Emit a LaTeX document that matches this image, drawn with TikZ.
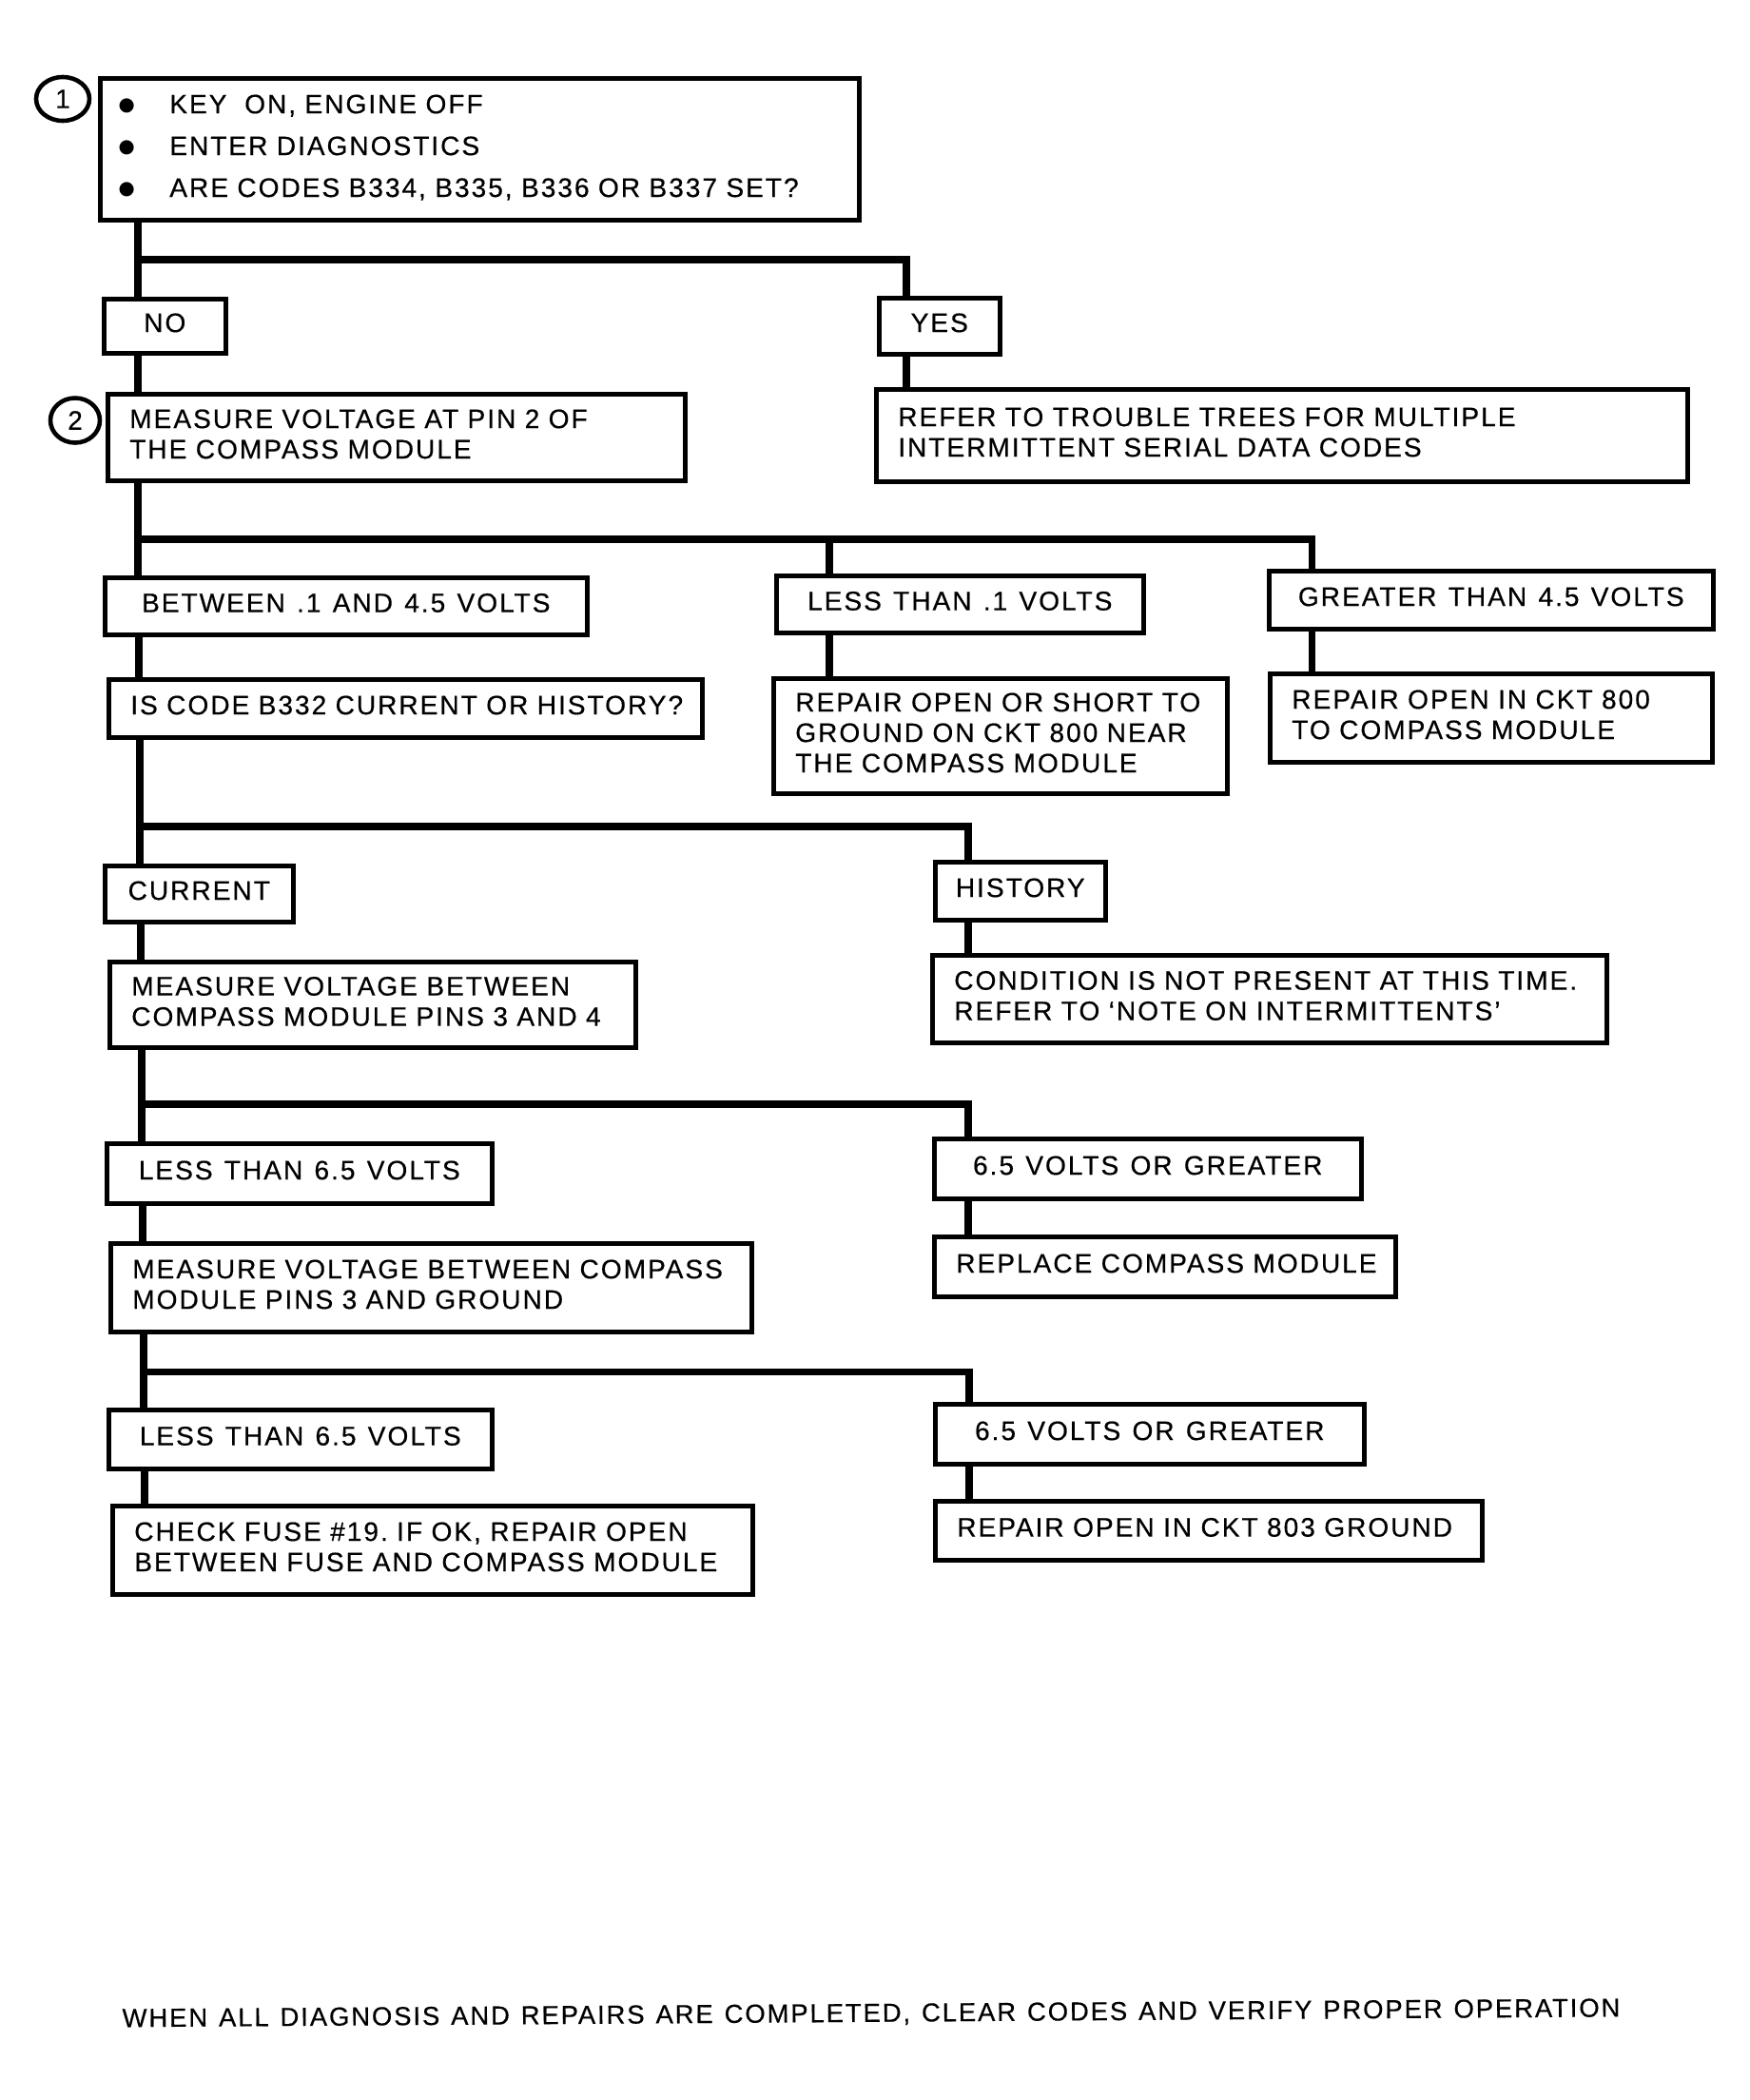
\documentclass[tikz,border=0pt]{standalone}
\usepackage{fontspec}
\usetikzlibrary{shapes.geometric}
\newfontfamily\df{Liberation Sans}[LetterSpace=7,WordSpace=1.25,FakeBold=0.4]
\newfontfamily\djvfont{DejaVu Sans}
\newcommand\dfs{\df\fontsize{8.0pt}{9.1pt}\selectfont}
\newcommand\nw[1]{\makebox[0pt][l]{#1}}
\newcommand\bul{\makebox[0.10cm]{\raisebox{0.7pt}{\djvfont\fontsize{5.6pt}{5.6pt}\selectfont ●}}\hspace{0.40cm}}
\frenchspacing
\begin{document}
\begin{tikzpicture}[
  bx/.style={draw, line width=1.3pt, anchor=north west, inner ysep=0pt, font=\dfs,
             execute at end node={\rule[-0.07cm]{0pt}{0pt}}},
  lb/.style 2 args={bx, text width=#1, minimum height=#2, inner xsep=0.23cm, align=left},
  cb/.style 2 args={bx, minimum width=#1, minimum height=#2, inner xsep=0pt, align=center},
  ln/.style={line width=2pt},
  num/.style={ellipse, draw, line width=1.3pt, inner sep=0pt, font=\dfs}
]
\useasboundingbox[fill=white] (0,0) rectangle (18.4,-22.08);

% boxes
\node[bx, text width=7.52cm, minimum height=1.49cm, inner xsep=0.23cm, align=left, font=\df\fontsize{8.0pt}{12.5pt}\selectfont] (b1) at (1.03,-0.80)
  {\nw{\bul KEY\ \ ON, ENGINE OFF}\\
   \nw{\bul ENTER DIAGNOSTICS}\\
   \nw{\bul ARE CODES B334, B335, B336 OR B337 SET?}};
\node[num, minimum width=0.56cm, minimum height=0.46cm] (c1) at (0.66,-1.04) {1};

\node[cb={1.28cm}{0.57cm}] (no) at (1.07,-3.12) {NO};
\node[cb={1.27cm}{0.59cm}] (yes) at (9.22,-3.11) {YES};

\node[lb={5.61cm}{0.91cm}] (b2) at (1.11,-4.12) {\nw{MEASURE VOLTAGE AT PIN 2 OF}\\\nw{THE COMPASS MODULE}};
\node[num, minimum width=0.52cm, minimum height=0.47cm] (c2) at (0.79,-4.42) {2};
\node[lb={8.07cm}{0.97cm}] (refer) at (9.19,-4.07) {\nw{REFER TO TROUBLE TREES FOR MULTIPLE}\\\nw{INTERMITTENT SERIAL DATA CODES}};

\node[cb={5.07cm}{0.60cm}] (betw) at (1.08,-6.05) {BETWEEN .1 AND 4.5 VOLTS};
\node[cb={3.86cm}{0.60cm}] (less1) at (8.14,-6.03) {LESS THAN .1 VOLTS};
\node[cb={4.67cm}{0.61cm}] (great) at (13.32,-5.98) {GREATER THAN 4.5 VOLTS};

\node[lb={5.78cm}{0.61cm}] (iscode) at (1.12,-7.12) {\nw{IS CODE B332 CURRENT OR HISTORY?}};
\node[lb={4.31cm}{1.21cm}] (rshort) at (8.11,-7.11) {\nw{REPAIR OPEN OR SHORT TO}\\\nw{GROUND ON CKT 800 NEAR}\\\nw{THE COMPASS MODULE}};
\node[lb={4.19cm}{0.93cm}] (r800) at (13.33,-7.06) {\nw{REPAIR OPEN IN CKT 800}\\\nw{TO COMPASS MODULE}};

\node[cb={1.98cm}{0.59cm}] (cur) at (1.08,-9.08) {CURRENT};
\node[cb={1.79cm}{0.61cm}] (hist) at (9.81,-9.04) {HISTORY};

\node[lb={5.07cm}{0.90cm}] (m34) at (1.13,-10.09) {\nw{MEASURE VOLTAGE BETWEEN}\\\nw{COMPASS MODULE PINS 3 AND 4}};
\node[lb={6.63cm}{0.92cm}] (cond) at (9.78,-10.02) {\nw{CONDITION IS NOT PRESENT AT THIS TIME.}\\\nw{REFER TO ‘NOTE ON INTERMITTENTS’}};

\node[cb={4.05cm}{0.63cm}] (l65a) at (1.10,-12.00) {LESS THAN 6.5 VOLTS};
\node[cb={4.49cm}{0.63cm}] (g65a) at (9.80,-11.95) {6.5 VOLTS OR GREATER};

\node[lb={6.28cm}{0.93cm}] (mgnd) at (1.14,-13.05) {\nw{MEASURE VOLTAGE BETWEEN COMPASS}\\\nw{MODULE PINS 3 AND GROUND}};
\node[lb={4.39cm}{0.63cm}] (repl) at (9.80,-12.98) {\nw{REPLACE COMPASS MODULE}};

\node[cb={4.03cm}{0.62cm}] (l65b) at (1.12,-14.80) {LESS THAN 6.5 VOLTS};
\node[cb={4.51cm}{0.63cm}] (g65b) at (9.81,-14.74) {6.5 VOLTS OR GREATER};

\node[lb={6.27cm}{0.93cm}] (fuse) at (1.16,-15.81) {\nw{CHECK FUSE \#19. IF OK, REPAIR OPEN}\\\nw{BETWEEN FUSE AND COMPASS MODULE}};
\node[lb={5.29cm}{0.62cm}] (r803) at (9.81,-15.76) {\nw{REPAIR OPEN IN CKT 803 GROUND}};

\node[font=\df\fontsize{7.8pt}{9.1pt}\selectfont, rotate=0.4] (foot) at (9.16,-21.18) {WHEN ALL DIAGNOSIS AND REPAIRS ARE COMPLETED, CLEAR CODES AND VERIFY PROPER OPERATION};

% connectors
\coordinate (x1) at (1.45,-2.73);
\coordinate (y1) at (9.53,-2.73);
\draw[ln] (x1 |- b1.south) -- (x1 |- no.north);
\draw[ln] (x1) -- (y1) -- (y1 |- yes.north);
\draw[ln] (x1 |- no.south) -- (x1 |- b2.north);
\draw[ln] (y1 |- yes.south) -- (y1 |- refer.north);

\coordinate (x2) at (1.45,-5.67);
\coordinate (m2) at (8.72,-5.67);
\coordinate (r2) at (13.79,-5.67);
\draw[ln] (x2 |- b2.south) -- (x2 |- betw.north);
\draw[ln] (x2) -- (r2) -- (r2 |- great.north);
\draw[ln] (m2) -- (m2 |- less1.north);
\coordinate (x2b) at (1.46,0);
\draw[ln] (x2b |- betw.south) -- (x2b |- iscode.north);
\draw[ln] (m2 |- less1.south) -- (m2 |- rshort.north);
\draw[ln] (r2 |- great.south) -- (r2 |- r800.north);

\coordinate (x3) at (1.47,-8.69);
\coordinate (r3) at (10.18,-8.69);
\draw[ln] (x3 |- iscode.south) -- (x3 |- cur.north);
\draw[ln] (x3) -- (r3) -- (r3 |- hist.north);
\coordinate (x3b) at (1.48,0);
\draw[ln] (x3b |- cur.south) -- (x3b |- m34.north);
\draw[ln] (r3 |- hist.south) -- (r3 |- cond.north);

\coordinate (x4) at (1.49,-11.61);
\coordinate (r4) at (10.18,-11.61);
\draw[ln] (x4 |- m34.south) -- (x4 |- l65a.north);
\draw[ln] (x4) -- (r4) -- (r4 |- g65a.north);
\coordinate (x4b) at (1.50,0);
\draw[ln] (x4b |- l65a.south) -- (x4b |- mgnd.north);
\draw[ln] (r4 |- g65a.south) -- (r4 |- repl.north);

\coordinate (x5) at (1.51,-14.42);
\coordinate (r5) at (10.19,-14.42);
\draw[ln] (x5 |- mgnd.south) -- (x5 |- l65b.north);
\draw[ln] (x5) -- (r5) -- (r5 |- g65b.north);
\coordinate (x5b) at (1.52,0);
\draw[ln] (x5b |- l65b.south) -- (x5b |- fuse.north);
\draw[ln] (r5 |- g65b.south) -- (r5 |- r803.north);
\end{tikzpicture}
\end{document}
